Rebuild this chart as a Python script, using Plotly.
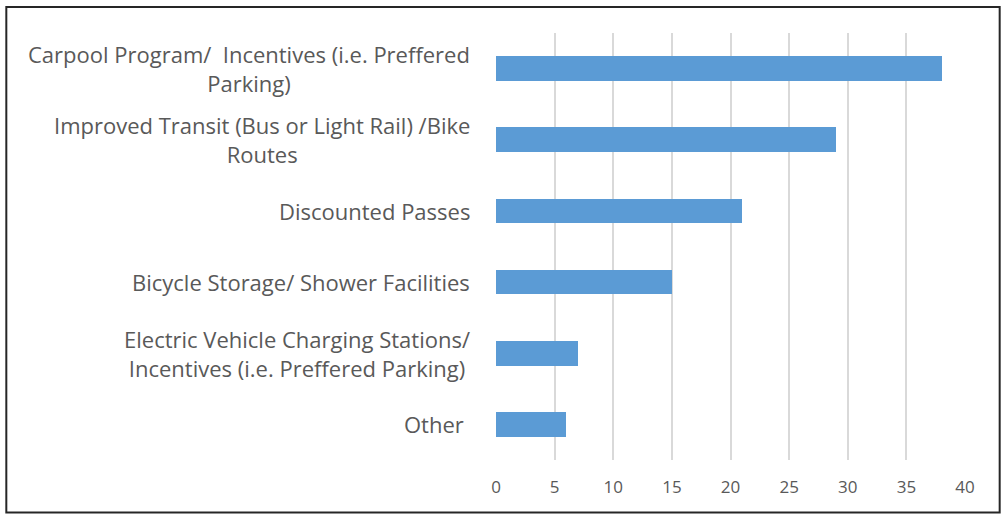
import plotly.graph_objects as go

categories = [
    "Carpool Program/\u00a0\u00a0Incentives (i.e. Preffered<br>Parking)",
    "Improved Transit (Bus or Light Rail) /Bike<br>Routes",
    "Discounted Passes",
    "Bicycle Storage/ Shower Facilities",
    "Electric Vehicle Charging Stations/<br>Incentives (i.e. Preffered Parking)",
    "Other\u00a0",
]
values = [38, 29, 21, 15, 7, 6]
x_ticks = [0, 5, 10, 15, 20, 25, 30, 35, 40]

W, H = 1003, 514
L, R, T, B = 496, 965.3, 33, 460
pw, ph = R - L, B - T

fig = go.Figure(
    go.Bar(
        x=values,
        y=list(range(len(categories))),
        orientation="h",
        width=0.345,
        marker=dict(color="#5B9BD5", line=dict(width=0)),
    )
)

for i, lab in enumerate(categories):
    fig.add_annotation(
        x=0, xref="paper", y=i, yref="y",
        text=lab, showarrow=False,
        xanchor="right", yanchor="middle", align="center",
        xshift=-24,
        font=dict(family="Open Sans", size=22, color="#595959"),
    )

fig.add_shape(
    type="rect", xref="paper", yref="paper",
    x0=(6 - L) / pw, x1=(1000 - L) / pw,
    y0=(B - 512.5) / ph, y1=(B - 7) / ph,
    line=dict(color="#262626", width=2),
)

fig.update_layout(
    width=W, height=H, autosize=False,
    margin=dict(l=L, r=W - R, t=T, b=H - B, pad=0),
    paper_bgcolor="white", plot_bgcolor="white",
    showlegend=False,
    bargap=0,
    xaxis=dict(
        range=[0, 40], tickvals=x_ticks, showgrid=True,
        gridcolor="#D9D9D9", gridwidth=1.5,
        zeroline=False, showline=False, ticks="",
        ticklabelstandoff=15,
        tickfont=dict(family="Open Sans", size=17, color="#595959"),
    ),
    yaxis=dict(
        range=[len(categories) - 0.5, -0.5],
        showticklabels=False, showgrid=False, zeroline=False,
        showline=False, ticks="",
    ),
)

fig.write_html(
    "out.html",
    config={"displayModeBar": False},
    post_script="document.body.style.margin='0px';",
)
